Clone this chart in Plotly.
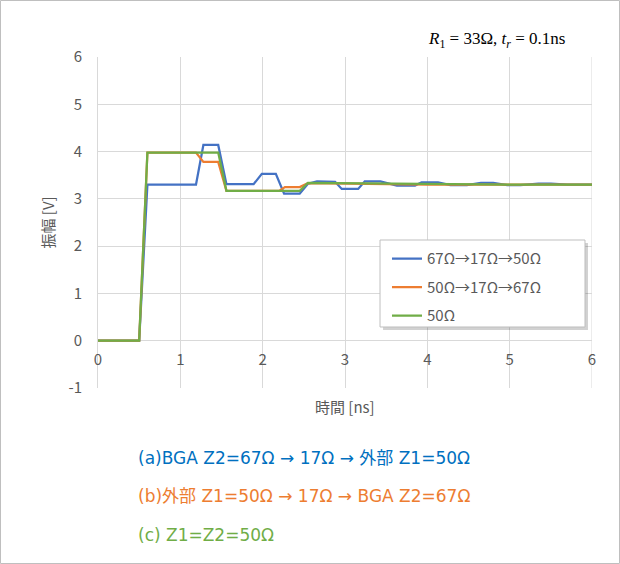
import plotly.graph_objects as go

# ---- data ----
blue_t = [0, 0.5, 0.6, 1.19, 1.28, 1.46, 1.56, 1.89, 1.99, 2.16, 2.26, 2.45, 2.55, 2.66, 2.88, 2.96, 3.16, 3.24,
          3.43, 3.63, 3.85, 3.93, 4.13, 4.28, 4.48, 4.65, 4.8, 4.97, 5.13, 5.35, 5.5, 5.7, 6.0]
blue_v = [0, 0, 3.30, 3.30, 4.14, 4.14, 3.31, 3.31, 3.53, 3.53, 3.11, 3.11, 3.32, 3.37, 3.36, 3.21, 3.21, 3.37,
          3.37, 3.28, 3.28, 3.35, 3.35, 3.29, 3.29, 3.34, 3.34, 3.29, 3.29, 3.32, 3.32, 3.30, 3.30]

orange_t = [0, 0.5, 0.6, 1.19, 1.28, 1.46, 1.56, 2.2, 2.27, 2.45, 2.55, 3.0, 3.5, 4.0, 5.0, 6.0]
orange_v = [0, 0, 3.98, 3.98, 3.78, 3.78, 3.17, 3.17, 3.25, 3.25, 3.33, 3.32, 3.31, 3.30, 3.30, 3.30]

green_t = [0, 0.5, 0.6, 1.46, 1.56, 2.45, 2.55, 3.0, 3.5, 4.0, 5.0, 6.0]
green_v = [0, 0, 3.98, 3.98, 3.17, 3.17, 3.34, 3.33, 3.32, 3.31, 3.30, 3.30]

series_names = ["67Ω→17Ω→50Ω", "50Ω→17Ω→67Ω", "50Ω"]
x_ticks = [0, 1, 2, 3, 4, 5, 6]
y_ticks = [-1, 0, 1, 2, 3, 4, 5, 6]
y_tick_labels = ["-1", "0", "1", "2", "3", "4", "5", "6"]

notes = ["(a)BGA Z2=67Ω → 17Ω → 外部 Z1=50Ω",
         "(b)外部 Z1=50Ω → 17Ω → BGA Z2=67Ω",
         "(c) Z1=Z2=50Ω"]

BLUE, ORANGE, GREEN = "#4472C4", "#ED7D31", "#70AD47"
NOTE_COLORS = ["#0070C0", "#ED7D31", "#70AD47"]
GRID = "#D9D9D9"
TXT = "#595959"
FONT = "Noto Sans CJK JP"
NOTE_FONT = "DejaVu Sans, Noto Sans CJK JP"

fig = go.Figure()
for t, v, name, col in [(blue_t, blue_v, series_names[0], BLUE),
                        (orange_t, orange_v, series_names[1], ORANGE),
                        (green_t, green_v, series_names[2], GREEN)]:
    fig.add_trace(go.Scatter(x=t, y=v, mode="lines", name=name, legendgroup=name,
                             line=dict(color=col, width=2.25)))

fig.update_layout(
    width=620, height=564,
    margin=dict(l=98, r=28, t=57, b=176),
    paper_bgcolor="white", plot_bgcolor="white",
    font=dict(family=FONT, size=14, color=TXT),
    showlegend=True,
    legend=dict(x=0.585, y=0.44, xanchor="left", yanchor="top",
                bgcolor="rgba(0,0,0,0)", borderwidth=0,
                font=dict(family=FONT, size=15, color=TXT),
                tracegroupgap=6),
    xaxis=dict(range=[0, 6], tickvals=x_ticks, showgrid=True, gridcolor=GRID, gridwidth=1,
               zeroline=False, showline=False, anchor="free", position=1/7,
               ticks="", ticklabelstandoff=8, tickfont=dict(size=15, color=TXT)),
    yaxis=dict(range=[-1, 6], tickvals=y_ticks, ticktext=y_tick_labels, showgrid=True, gridcolor=GRID,
               gridwidth=1, zeroline=False, showline=True, linecolor=GRID, linewidth=1,
               ticks="", ticklabelstandoff=12, tickfont=dict(size=15, color=TXT)),
)

# right edge grid line (x = 6)
fig.add_shape(type="line", xref="x", yref="paper", x0=6, x1=6, y0=0, y1=1,
              line=dict(color=GRID, width=1), layer="below")

# legend box with shadow
lx0, lx1, ly0, ly1 = 0.5709, 0.9858, 0.1843, 0.4471
fig.add_shape(type="rect", xref="paper", yref="paper",
              x0=lx0 + 3/494, x1=lx1 + 3/494, y0=ly0 - 3/331, y1=ly1 - 3/331,
              line=dict(width=0), fillcolor="rgba(0,0,0,0.18)", layer="above")
fig.add_shape(type="rect", xref="paper", yref="paper", x0=lx0, x1=lx1, y0=ly0, y1=ly1,
              line=dict(color="#BFBFBF", width=1), fillcolor="white", layer="above")

# outer chart border
fig.add_shape(type="rect", xref="paper", yref="paper",
              x0=(0.5 - 98) / 494, x1=(619.5 - 98) / 494,
              y0=(388 - 563.5) / 331, y1=(388 - 0.5) / 331,
              line=dict(color="#BFBFBF", width=1), fillcolor="rgba(0,0,0,0)", layer="above")

# axis titles
fig.add_annotation(text="振幅 [V]", xref="paper", yref="paper", x=(47 - 98) / 494, y=0.5,
                   xanchor="center", yanchor="middle",
                   textangle=-90, showarrow=False, font=dict(family=FONT, size=15, color=TXT))
fig.add_annotation(text="時間 [ns]", xref="paper", yref="paper", x=0.5, y=(388 - 406) / 331,
                   xanchor="center", yanchor="middle",
                   showarrow=False, font=dict(family=FONT, size=15, color=TXT))

# parameter label
fig.add_annotation(text="<i>R</i><sub>1</sub> = 33Ω, <i>t<sub>r</sub></i> = 0.1ns",
                   xref="paper", yref="paper", x=(567 - 98) / 494, y=(388 - 40) / 331,
                   xanchor="right", yanchor="middle",
                   showarrow=False, font=dict(family="Liberation Serif", size=17, color="black"))

# notes below chart
for i, (txt, col) in enumerate(zip(notes, NOTE_COLORS)):
    ypx = [458, 496, 535][i]
    fig.add_annotation(text=txt, xref="paper", yref="paper", x=(136 - 98) / 494, y=(388 - ypx) / 331,
                       xanchor="left", yanchor="middle", showarrow=False,
                       font=dict(family=NOTE_FONT, size=17, color=col))

fig.write_html("out.html")
